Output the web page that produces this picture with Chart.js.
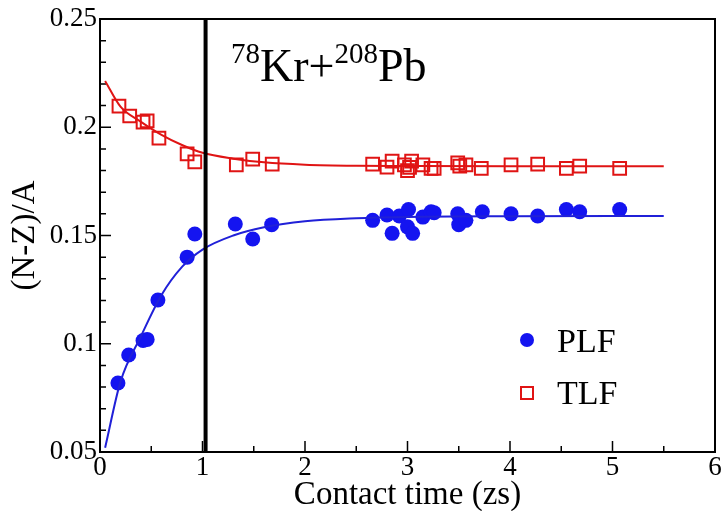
<!DOCTYPE html>
<html>
<head>
<meta charset="utf-8">
<script src="https://cdn.jsdelivr.net/npm/chart.js@4/dist/chart.umd.min.js"></script>
<style>
html,body{margin:0;padding:0;background:#fff;}
#wrap{width:726px;height:511px;}
</style>
</head>
<body>
<div id="wrap"><canvas id="c" width="726" height="511"></canvas></div>
<script>
// ---- data ----
const plfTime = [0.175,0.28,0.42,0.46,0.565,0.85,0.925,1.32,1.49,1.675,2.66,2.80,2.85,2.92,3.01,3.00,3.05,3.15,3.23,3.26,3.49,3.50,3.57,3.73,4.01,4.27,4.55,4.68,5.07];
const plfVal  = [0.0819,0.0948,0.1015,0.1020,0.1202,0.1400,0.1507,0.1553,0.1484,0.1550,0.1570,0.1595,0.1510,0.1590,0.1620,0.1540,0.1510,0.1585,0.1610,0.1605,0.1600,0.1550,0.1570,0.1610,0.1600,0.1590,0.1620,0.1610,0.1620];
const tlfTime = [0.185,0.29,0.42,0.46,0.575,0.85,0.925,1.33,1.49,1.68,2.66,2.80,2.85,2.97,3.00,3.04,3.02,3.15,3.23,3.26,3.49,3.51,3.57,3.72,4.01,4.27,4.55,4.68,5.07];
const tlfVal  = [0.2098,0.2052,0.2024,0.2029,0.1950,0.1877,0.1840,0.1826,0.1853,0.1830,0.1830,0.1816,0.1844,0.1826,0.1800,0.1844,0.1815,0.1826,0.1810,0.1810,0.1835,0.1820,0.1826,0.1810,0.1826,0.1830,0.1810,0.1820,0.1810];
const fitTime = [0.05,0.2,0.4,0.6,0.8,1.0,1.3,1.6,2.0,2.5,3.0,4.0,5.5];
const plfFit  = [0.052,0.0825,0.1035,0.1225,0.1355,0.1435,0.1500,0.1538,0.1566,0.1580,0.1586,0.1589,0.1590];
const tlfFit  = [0.2214,0.2095,0.2025,0.1965,0.1918,0.1882,0.1855,0.1838,0.1827,0.1822,0.1821,0.1820,0.1820];
const markerTime = [1.03, 1.03];
const markerVal  = [0.05, 0.25];
const xRange = [0, 6];
const yRange = [0.05, 0.25];
const seriesNames = ['PLF', 'TLF'];

const BLUE = '#1414f0', BLUE_LINE = '#2020d8', RED = '#e01414';
const SERIF = "'Liberation Serif', 'Times New Roman', serif";

function pts(xs, ys){ return xs.map((x,i)=>({x:x, y:ys[i]})); }

const framePlugin = {
  id: 'frame',
  beforeDatasetsDraw(chart){
    const ctx = chart.ctx, a = chart.chartArea;
    const xs = chart.scales.x, ys = chart.scales.y;
    ctx.save();
    ctx.strokeStyle = '#000';
    ctx.lineWidth = 1.5;
    ctx.beginPath();
    for (let i = 5; i <= 25; i++) {
      const py = ys.getPixelForValue(i/100);
      const len = (i % 5 === 0) ? 11 : 6;
      ctx.moveTo(a.left, py); ctx.lineTo(a.left + len, py);
    }
    for (let i = 0; i <= 12; i++) {
      const px = xs.getPixelForValue(i/2);
      const len = (i % 2 === 0) ? 11 : 6;
      ctx.moveTo(px, a.bottom); ctx.lineTo(px, a.bottom - len);
    }
    ctx.stroke();
    ctx.lineWidth = 2;
    ctx.strokeRect(a.left, a.top, a.right - a.left, a.bottom - a.top);
    ctx.restore();
  },
  afterDraw(chart){
    const ctx = chart.ctx;
    ctx.save();
    ctx.fillStyle = '#000';
    ctx.textBaseline = 'alphabetic';
    // annotation 78Kr+208Pb
    let x = 231;
    const base = 81;
    const big = "46px " + SERIF, small = "29px " + SERIF;
    const parts = [['78', small, -18], ['Kr+', big, 0], ['208', small, -18], ['Pb', big, 0]];
    parts.forEach(p => {
      ctx.font = p[1];
      ctx.fillText(p[0], x, base + p[2]);
      x += ctx.measureText(p[0]).width;
    });
    // legend
    ctx.font = "34px " + SERIF;
    ctx.fillText(seriesNames[0], 557, 352);
    ctx.fillText(seriesNames[1], 557, 404);
    ctx.fillStyle = BLUE;
    ctx.beginPath(); ctx.arc(527, 340, 7, 0, Math.PI*2); ctx.fill();
    ctx.strokeStyle = RED; ctx.lineWidth = 2;
    ctx.strokeRect(521, 387, 12, 12);
    ctx.restore();
  }
};

new Chart(document.getElementById('c'), {
  type: 'scatter',
  data: {
    datasets: [
      { label: 'marker', type: 'line', data: pts(markerTime, markerVal), borderColor: '#000', borderWidth: 4, pointRadius: 0 },
      { label: 'PLF fit', type: 'line', data: pts(fitTime, plfFit), borderColor: BLUE_LINE, borderWidth: 2, pointRadius: 0, cubicInterpolationMode: 'monotone' },
      { label: 'TLF fit', type: 'line', data: pts(fitTime, tlfFit), borderColor: RED, borderWidth: 2, pointRadius: 0, cubicInterpolationMode: 'monotone' },
      { label: seriesNames[0], data: pts(plfTime, plfVal), pointStyle: 'circle', pointRadius: 7.5, backgroundColor: BLUE, borderColor: BLUE, borderWidth: 0 },
      { label: seriesNames[1], data: pts(tlfTime, tlfVal), pointStyle: 'rect', pointRadius: 9, backgroundColor: 'rgba(0,0,0,0)', borderColor: RED, borderWidth: 2 }
    ]
  },
  options: {
    responsive: false,
    animation: false,
    layout: { padding: { top: 19, right: 9, left: 0, bottom: 0 } },
    plugins: { legend: { display: false }, tooltip: { enabled: false } },
    scales: {
      x: {
        type: 'linear', min: xRange[0], max: xRange[1],
        grid: { display: false }, border: { display: false },
        ticks: { stepSize: 1, color: '#000', font: { family: SERIF, size: 27 }, padding: -8, maxRotation: 0 },
        title: { display: true, text: 'Contact time (zs)', color: '#000', font: { family: SERIF, size: 33 }, padding: { top: 0, bottom: -4 } },
        afterFit(s){ s.height = 59; }
      },
      y: {
        type: 'linear', min: yRange[0], max: yRange[1],
        grid: { display: false }, border: { display: false },
        ticks: { stepSize: 0.05, color: '#000', font: { family: SERIF, size: 27 }, padding: -5,
                 callback: v => String(Number(v.toFixed(2))) },
        title: { display: true, text: '(N-Z)/A', color: '#000', font: { family: SERIF, size: 33 }, padding: { top: 6, bottom: 0 } },
        afterFit(s){ s.width = 100; }
      }
    }
  },
  plugins: [framePlugin]
});
</script>
</body>
</html>
